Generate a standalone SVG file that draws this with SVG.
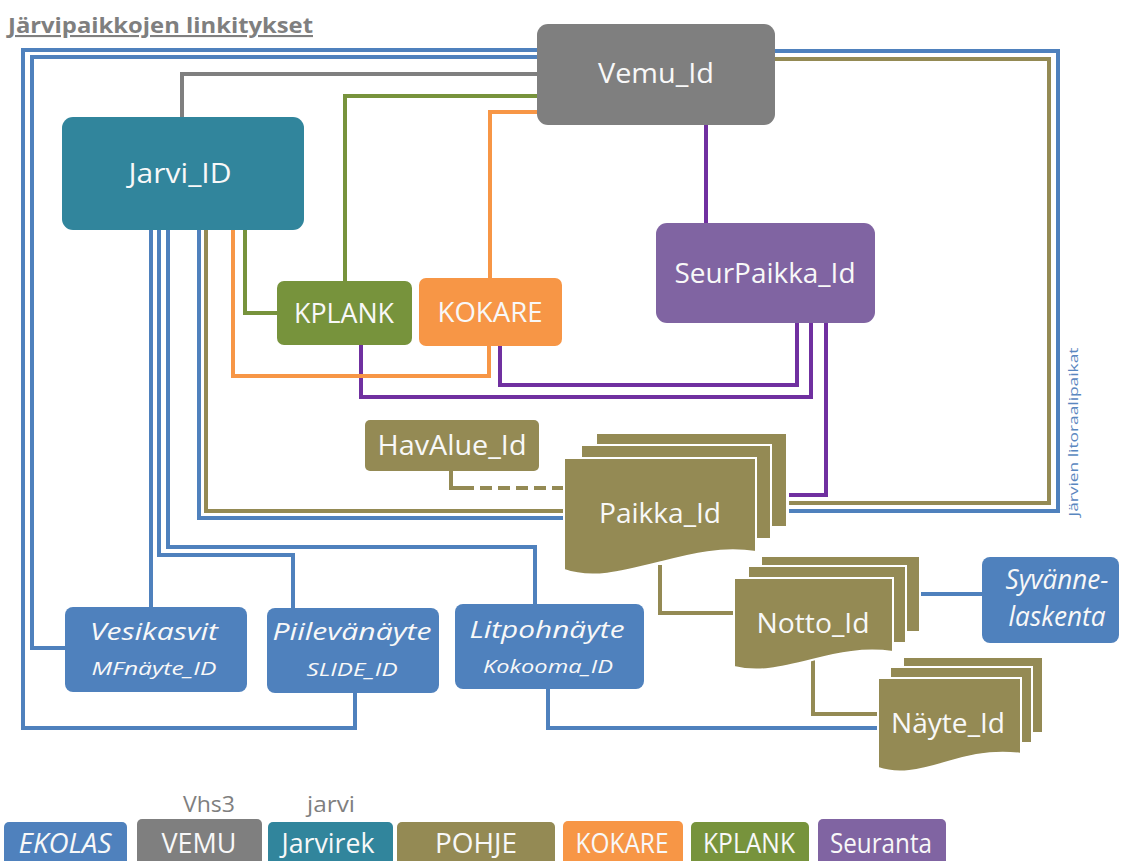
<svg xmlns="http://www.w3.org/2000/svg" width="1126" height="861" viewBox="0 0 1126 861">
<style>
.c{fill:none;stroke-width:4;stroke-linejoin:miter}
.bl{stroke:#4f81bd}
.gy{stroke:#7f7f7f}
.gr{stroke:#77933c}
.or{stroke:#f79646}
.ol{stroke:#948a54}
.pu{stroke:#7030a0}
.t{font-family:"Open Sans","Liberation Sans",sans-serif;fill:#f8f8f8;text-anchor:middle;font-size:27px}
.it{font-style:italic}
.doc{fill:#948a54;stroke:#fff;stroke-width:2}
.lg{font-family:"Open Sans","Liberation Sans",sans-serif;fill:#7f7f7f;text-anchor:middle;font-size:21px}
</style>
<rect width="1126" height="861" fill="#fff"/>
<text x="8" y="33" font-family="'Open Sans','Liberation Sans',sans-serif" font-weight="bold" font-size="21" fill="#7f7f7f" text-decoration="underline" textLength="305" lengthAdjust="spacingAndGlyphs">Järvipaikkojen linkitykset</text>

<g id="connectors">
<path class="c bl" d="M540,50 H23 V728 H355 V693"/>
<path class="c bl" d="M540,57 H32 V648 H67"/>
<path class="c gy" d="M540,74 H182 V119"/>
<path class="c gr" d="M540,96 H345 V283"/>
<path class="c or" d="M540,112 H490 V280"/>
<path class="c pu" d="M706,122 V225"/>
<path class="c bl" d="M772,51 H1058 V511 H789"/>
<path class="c ol" d="M772,59 H1049 V503 H789"/>
<path class="c pu" d="M797,320 V385 H500 V344"/>
<path class="c pu" d="M811,320 V397 H361 V343"/>
<path class="c pu" d="M826,320 V495 H789"/>
<path class="c bl" d="M151,228 V609"/>
<path class="c bl" d="M159,228 V555 H293 V610"/>
<path class="c bl" d="M168,228 V547 H535 V606"/>
<path class="c bl" d="M199,228 V518 H566"/>
<path class="c ol" d="M206,228 V511 H566"/>
<path class="c or" d="M233,228 V376 H489 V344"/>
<path class="c gr" d="M245,228 V313 H279"/>
<path class="c ol" d="M451,468 V488 H462" />
<path class="c ol" d="M462,488 H566" stroke-dasharray="12,6"/>
<path class="c ol" d="M660,565 V613 H736"/>
<path class="c bl" d="M920,594 H984"/>
<path class="c ol" d="M813,660 V714 H880"/>
<path class="c bl" d="M548,687 V728 H880"/>
</g>

<g id="vemu">
<rect x="537" y="24" width="238" height="101" rx="11" fill="#7f7f7f"/>
<text class="t" x="656" y="83" textLength="116" lengthAdjust="spacingAndGlyphs">Vemu_Id</text>
</g>
<g id="jarvi">
<rect x="62" y="117" width="242" height="113" rx="11" fill="#31859c"/>
<text class="t" x="180" y="183" textLength="103" lengthAdjust="spacingAndGlyphs">Jarvi_ID</text>
</g>
<g id="seurpaikka">
<rect x="656" y="223" width="219" height="100" rx="11" fill="#8064a2"/>
<text class="t" x="765" y="283" textLength="181" lengthAdjust="spacingAndGlyphs">SeurPaikka_Id</text>
</g>
<g id="kplank">
<rect x="277" y="281" width="135" height="64" rx="7" fill="#77933c"/>
<text class="t" x="344" y="323" textLength="100" lengthAdjust="spacingAndGlyphs">KPLANK</text>
</g>
<g id="kokare">
<rect x="419" y="278" width="143" height="68" rx="7" fill="#f79646"/>
<text class="t" x="490" y="322" textLength="105" lengthAdjust="spacingAndGlyphs">KOKARE</text>
</g>
<g id="havalue">
<rect x="365" y="420" width="174" height="51" rx="5" fill="#948a54"/>
<text class="t" x="452" y="455" font-size="25" textLength="149" lengthAdjust="spacingAndGlyphs">HavAlue_Id</text>
</g>
<g id="paikka">
<rect class="doc" x="596" y="433" width="191" height="94"/>
<rect class="doc" x="581" y="445" width="190" height="94"/>
<path class="doc" d="M564,458 H756 V552 C722,547 692,554 662,562 C622,572 592,580 564,570 Z"/>
<text class="t" x="660" y="523" font-size="28" textLength="122" lengthAdjust="spacingAndGlyphs">Paikka_Id</text>
</g>
<g id="notto">
<rect class="doc" x="761" y="556" width="159" height="76"/>
<rect class="doc" x="748" y="566" width="158" height="77"/>
<path class="doc" d="M734,578 H893 V652 C864,648 838,653 812,660 C780,668 758,673 734,667 Z"/>
<text class="t" x="813" y="633" font-size="28" textLength="113" lengthAdjust="spacingAndGlyphs">Notto_Id</text>
</g>
<g id="nayte">
<rect class="doc" x="903" y="657" width="140" height="76"/>
<rect class="doc" x="890" y="667" width="142" height="76"/>
<path class="doc" d="M878,678 H1021 V754 C994,750 970,755 948,762 C918,771 898,775 878,768 Z"/>
<text class="t" x="948" y="733" font-size="28" textLength="114" lengthAdjust="spacingAndGlyphs">Näyte_Id</text>
</g>
<g id="syvanne">
<rect x="982" y="557" width="137" height="86" rx="8" fill="#4f81bd"/>
<text class="t it" font-size="23"><tspan x="1057" y="589" textLength="103" lengthAdjust="spacingAndGlyphs">Syvänne-</tspan><tspan x="1057" y="626" textLength="97" lengthAdjust="spacingAndGlyphs">laskenta</tspan></text>
</g>
<g id="vesikasvit">
<rect x="65" y="607" width="182" height="85" rx="8" fill="#4f81bd"/>
<text class="t it"><tspan x="154" y="640" font-size="24" textLength="128" lengthAdjust="spacingAndGlyphs">Vesikasvit</tspan><tspan x="154" y="675" font-size="19" textLength="125" lengthAdjust="spacingAndGlyphs">MFnäyte_ID</tspan></text>
</g>
<g id="piilevanayte">
<rect x="267" y="608" width="172" height="85" rx="8" fill="#4f81bd"/>
<text class="t it"><tspan x="352" y="640" font-size="24" textLength="159" lengthAdjust="spacingAndGlyphs">Piilevänäyte</tspan><tspan x="352" y="676" font-size="19" textLength="91" lengthAdjust="spacingAndGlyphs">SLIDE_ID</tspan></text>
</g>
<g id="litpohnayte">
<rect x="455" y="604" width="189" height="85" rx="8" fill="#4f81bd"/>
<text class="t it"><tspan x="547" y="638" font-size="24" textLength="155" lengthAdjust="spacingAndGlyphs">Litpohnäyte</tspan><tspan x="548" y="673" font-size="19" textLength="130" lengthAdjust="spacingAndGlyphs">Kokooma_ID</tspan></text>
</g>
<text x="0" y="0" transform="translate(1078,432) rotate(-90)" font-family="'Open Sans','Liberation Sans',sans-serif" font-size="13" fill="#5a87c0" text-anchor="middle" textLength="169" lengthAdjust="spacingAndGlyphs">Järvien litoraalipaikat</text>

<g id="legend">
<rect x="4" y="822" width="123" height="50" rx="5" fill="#4f81bd"/>
<text class="t it" x="65" y="853" textLength="93" lengthAdjust="spacingAndGlyphs">EKOLAS</text>
<rect x="137" y="819" width="125" height="53" rx="5" fill="#7f7f7f"/>
<text class="t" x="199" y="853" textLength="75" lengthAdjust="spacingAndGlyphs">VEMU</text>
<text class="lg" x="209" y="812" textLength="52" lengthAdjust="spacingAndGlyphs">Vhs3</text>
<rect x="268" y="822" width="125" height="50" rx="5" fill="#31859c"/>
<text class="t" x="328" y="853" textLength="93" lengthAdjust="spacingAndGlyphs">Jarvirek</text>
<text class="lg" x="331" y="812" textLength="48" lengthAdjust="spacingAndGlyphs">jarvi</text>
<rect x="397" y="822" width="158" height="50" rx="5" fill="#948a54"/>
<text class="t" x="476" y="853" textLength="82" lengthAdjust="spacingAndGlyphs">POHJE</text>
<rect x="563" y="821" width="120" height="51" rx="5" fill="#f79646"/>
<text class="t" x="622" y="853" textLength="93" lengthAdjust="spacingAndGlyphs">KOKARE</text>
<rect x="691" y="822" width="118" height="50" rx="5" fill="#77933c"/>
<text class="t" x="749" y="853" textLength="92" lengthAdjust="spacingAndGlyphs">KPLANK</text>
<rect x="818" y="819" width="128" height="53" rx="5" fill="#8064a2"/>
<text class="t" x="881" y="853" textLength="102" lengthAdjust="spacingAndGlyphs">Seuranta</text>
</g>
</svg>
